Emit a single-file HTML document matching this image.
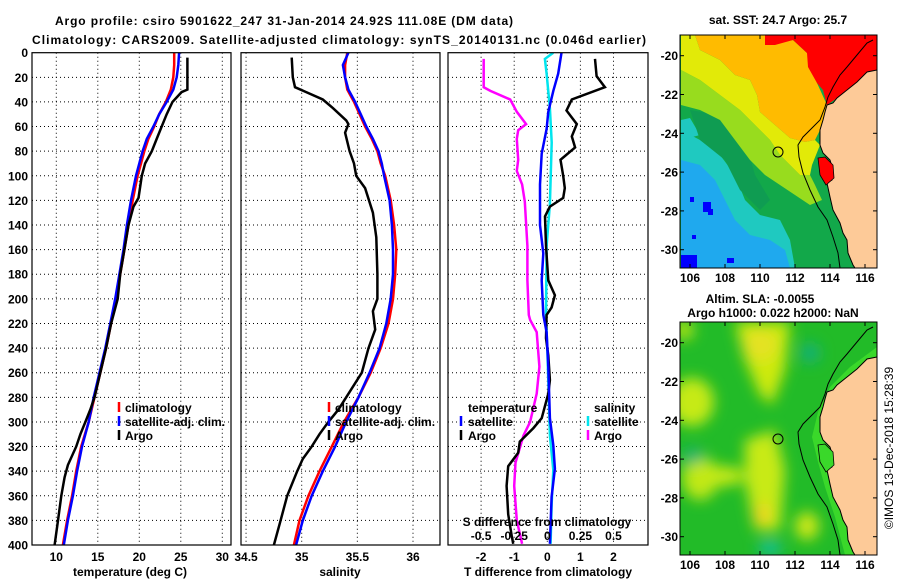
<!DOCTYPE html>
<html><head><meta charset="utf-8"><style>
html,body{margin:0;padding:0;background:#fff;}
svg text{font-family:"Liberation Sans",Arial,sans-serif;font-weight:bold;font-size:12px;fill:#000;}
</style></head><body>
<svg id="chart" width="900" height="580" viewBox="0 0 900 580" xmlns="http://www.w3.org/2000/svg">
<defs>
<clipPath id="c1"><rect x="32" y="52.7" width="199" height="492.3"/></clipPath>
<clipPath id="c2"><rect x="241" y="52.7" width="199" height="492.3"/></clipPath>
<clipPath id="c3"><rect x="448" y="52.7" width="200" height="492.3"/></clipPath>
<clipPath id="m1"><rect x="680" y="35" width="197" height="233"/></clipPath>
<clipPath id="m2"><rect x="680" y="322" width="197" height="233"/></clipPath>
<filter id="blur" x="-50%" y="-50%" width="200%" height="200%"><feGaussianBlur stdDeviation="7"/></filter>
</defs>
<text x="284" y="25" text-anchor="middle" font-size="13" textLength="458">Argo profile: csiro 5901622_247 31-Jan-2014 24.92S 111.08E (DM data)</text>
<text x="32" y="44" font-size="13" textLength="614">Climatology: CARS2009. Satellite-adjusted climatology: synTS_20140131.nc (0.046d earlier)</text>
<g id="grid"></g>
<g id="lines"></g>
<g id="frames"></g>
<g id="labels"></g>

<!-- SST map -->
<g>
<g clip-path="url(#m1)">
<rect x="680" y="35" width="197" height="233" fill="#12a84a"/>
<polygon fill="#1fc9c0" points="681,130 700,140 720,155 735,175 745,200 760,215 780,220 790,240 795,268 681,268"/>
<polygon fill="#1fa9ee" points="681,160 700,165 715,180 725,200 735,220 750,235 770,240 785,250 790,268 681,268"/>
<polygon fill="#1fc9c0" points="681,120 690,118 700,135 681,140"/>
<polygon fill="#0f9c52" points="690,110 720,115 745,140 755,175 770,200 760,210 740,190 725,160 700,140"/>
<polygon fill="#98dc1e" points="681,70 700,80 720,95 740,110 755,125 770,140 780,155 790,165 800,175 810,175 815,185 822,200 810,205 795,195 780,185 765,175 750,160 735,140 720,120 700,110 681,105"/>
<polygon fill="#e2ea08" points="681,35 695,35 700,50 720,60 735,75 750,80 757,95 760,112 775,125 790,138 805,142 815,140 820,145 812,165 810,175 800,175 790,165 780,155 770,140 755,125 740,110 720,95 700,80 681,70"/>
<polygon fill="#ffbb00" points="695,35 765,35 765,45 793,40 807,53 817,83 827,105 823,120 820,130 815,140 805,142 790,138 775,125 760,112 757,95 750,80 735,75 720,60 700,50"/>
<polygon fill="#ff0000" points="765,35 877,35 877,70 837,98 827,105 823,90 817,83 808,67 807,53 793,40 775,45 765,45"/>
<rect x="681" y="255" width="16" height="13" fill="#0000ff"/>
<rect x="690" y="197" width="4" height="5" fill="#0000ff"/>
<rect x="703" y="202" width="8" height="10" fill="#0000ff"/>
<rect x="708" y="209" width="5" height="6" fill="#0000ff"/>
<rect x="692" y="235" width="4" height="4" fill="#0000ff"/>
<rect x="727" y="258" width="7" height="5" fill="#0000ff"/>
<g id="land1">
<polygon fill="#fdca98" points="877,70 867,72 857,82 847,90 837,98 833,103 827,105 825,112 823,120 820,130 820,145 823,153 830,160 833,170 832,180 827,183 830,197 833,210 840,223 843,233 847,240 848,253 853,265 855,268 877,268"/>
<polyline fill="none" stroke="#000" stroke-width="1" points="877,70 867,72 857,82 847,90 837,98 833,103 827,105 825,112 823,120 820,130 820,145 823,153 830,160 833,170 832,180 827,183 830,197 833,210 840,223 843,233 847,240 848,253 853,265 855,268"/>
<polyline fill="none" stroke="#000" stroke-width="1" points="873,40 867,43 857,55 847,67 840,75 833,87 828,97 825,107 820,120 813,127 803,137 798,145 799,157 803,173 810,190 818,207 827,220 833,237 838,253 840,268"/>
</g>
<polygon fill="#ff0000" stroke="#000" stroke-width="0.8" points="818,158 825,157 833,165 834,178 826,185 820,175"/>
<circle cx="778" cy="152" r="5" fill="none" stroke="#000" stroke-width="1"/>
</g>
<rect x="680" y="35" width="197" height="233" fill="none" stroke="#000" stroke-width="1"/>
</g>

<!-- SLA map -->
<g>
<g clip-path="url(#m2)">
<rect x="680" y="322" width="197" height="233" fill="#22bb28"/>
<g filter="url(#blur)">
<polygon fill="#cdea10" points="735,322 790,322 785,370 772,405 760,395 745,360"/>
<ellipse cx="760" cy="345" rx="18" ry="16" fill="#e4e222"/>
<ellipse cx="692" cy="402" rx="22" ry="24" fill="#c6ea12"/>
<ellipse cx="700" cy="478" rx="18" ry="22" fill="#bfe814"/>
<ellipse cx="722" cy="476" rx="22" ry="10" fill="#c6ea12"/>
<polygon fill="#c8ea12" points="745,440 775,430 785,470 780,530 755,530 745,480"/>
<ellipse cx="762" cy="515" rx="8" ry="12" fill="#eed420"/>
<ellipse cx="807" cy="526" rx="12" ry="14" fill="#cde812"/>
<ellipse cx="810" cy="353" rx="10" ry="10" fill="#14b07a"/>
<ellipse cx="693" cy="456" rx="10" ry="8" fill="#14b07a"/>
<ellipse cx="770" cy="548" rx="12" ry="7" fill="#14c0a0"/>
<ellipse cx="684" cy="330" rx="10" ry="10" fill="#b0e218"/>
</g>
<polygon fill="#3ad82a" transform="translate(0,287)" points="877,60 850,80 830,100 818,125 812,150 818,175 825,200 835,230 845,268 877,268"/>
<g transform="translate(0,287)">
<polygon fill="#fdca98" points="877,70 867,72 857,82 847,90 837,98 833,103 827,105 825,112 823,120 820,130 820,145 823,153 830,160 833,170 832,180 827,183 830,197 833,210 840,223 843,233 847,240 848,253 853,265 855,268 877,268"/>
<polyline fill="none" stroke="#000" stroke-width="1" points="877,70 867,72 857,82 847,90 837,98 833,103 827,105 825,112 823,120 820,130 820,145 823,153 830,160 833,170 832,180 827,183 830,197 833,210 840,223 843,233 847,240 848,253 853,265 855,268"/>
<polyline fill="none" stroke="#000" stroke-width="1" points="873,40 867,43 857,55 847,67 840,75 833,87 828,97 825,107 820,120 813,127 803,137 798,145 799,157 803,173 810,190 818,207 827,220 833,237 838,253 840,268"/>
<polygon fill="#3ad82a" stroke="#000" stroke-width="0.8" points="818,158 825,157 833,165 834,178 826,185 820,175"/>
</g>
<circle cx="778" cy="439" r="5" fill="none" stroke="#000" stroke-width="1"/>
</g>
<rect x="680" y="322" width="197" height="233" fill="none" stroke="#000" stroke-width="1"/>
</g>
<text x="778" y="24" text-anchor="middle">sat. SST: 24.7 Argo: 25.7</text>
<text x="760" y="303" text-anchor="middle">Altim. SLA: -0.0055</text>
<text x="773" y="317" text-anchor="middle">Argo h1000: 0.022 h2000: NaN</text>
<g id="maplabels"></g>
<text transform="translate(893,448) rotate(-90)" text-anchor="middle" font-weight="normal" style="font-weight:normal">©IMOS 13-Dec-2018 15:28:39</text>
</svg>
<script>
// ---------- data ----------
const climDepth = [0,10,20,30,40,50,60,70,80,90,100,120,140,160,180,200,220,240,260,280,300,320,340,360,380,400];
const tempClim = [24.2,24.2,24.1,23.8,23.2,22.4,21.8,21.1,20.6,20.2,19.8,19.2,18.7,18.2,17.7,17.2,16.6,16.0,15.3,14.6,13.9,13.0,12.4,11.9,11.3,10.8];
const tempSatClim = [24.8,24.7,24.5,24.1,23.3,22.4,21.7,20.9,20.4,20.0,19.6,19.0,18.5,18.1,17.6,17.1,16.5,15.9,15.2,14.5,13.9,13.1,12.5,12.0,11.4,10.9];
const argoTDepth = [4,30,32,40,50,60,70,80,90,100,118,125,140,160,180,200,220,240,260,280,290,300,310,320,335,345,360,380,400];
const argoTemp = [25.8,25.8,25.1,24.0,23.3,22.7,22.1,21.5,20.7,20.3,19.9,19.3,18.7,18.2,17.7,17.4,16.6,16.0,15.3,14.6,14.1,13.5,12.9,12.4,11.4,11.0,10.6,10.2,9.8];
const salClim = [35.41,35.39,35.39,35.41,35.47,35.52,35.57,35.63,35.68,35.71,35.75,35.80,35.83,35.85,35.84,35.82,35.78,35.71,35.62,35.51,35.38,35.27,35.16,35.06,34.98,34.93];
const salSatClim = [35.42,35.37,35.39,35.42,35.48,35.53,35.58,35.64,35.69,35.72,35.74,35.79,35.81,35.82,35.82,35.80,35.76,35.70,35.61,35.51,35.40,35.30,35.19,35.09,35.01,34.95];
const argoSDepth = [4,20,28,32,38,45,55,58,65,80,90,100,110,130,150,180,200,210,225,240,260,280,290,300,310,320,330,340,360,380,400];
const argoSal = [34.91,34.92,34.94,35.04,35.19,35.28,35.40,35.42,35.39,35.43,35.47,35.49,35.57,35.64,35.67,35.68,35.68,35.64,35.66,35.60,35.54,35.40,35.33,35.24,35.16,35.09,35.01,34.96,34.87,34.81,34.75];
const tSatDiffDepth = [0,17,31,48,62,82,107,140,163,185,213,227,255,297,319,338,361,399];
const tSatDiff = [0.43,0.33,0.18,0.03,-0.02,-0.17,-0.22,-0.22,-0.12,-0.17,-0.12,-0.02,0.03,0.08,0.18,0.23,0.13,0.08];
const tArgoDiffDepth = [5,19,28,38,47,58,68,77,87,100,110,118,125,133,157,185,197,207,213,232,246,266,277,297,305,316,325,336,352,375,392,399];
const tArgoDiff = [1.44,1.49,1.74,0.74,0.58,0.89,0.74,0.84,0.40,0.48,0.53,0.48,0.08,-0.07,-0.04,0.03,0.23,0.13,-0.02,-0.04,0.03,0.08,0.03,-0.17,-0.42,-0.83,-0.88,-1.18,-1.23,-1.18,-1.08,-1.03];
const sSatDiffDepth = [0,5,17,45,73,123,157,213,241,269,311,339,366,399];
const sSatDiff = [0.045,-0.018,-0.005,0.02,0.033,0.02,-0.005,-0.01,0,0.008,0.02,0.045,0.033,0.025];
const sArgoDiffDepth = [5,28,31,38,48,58,63,70,87,96,107,121,157,185,213,217,227,255,277,300,311,322,333,352,380,399];
const sArgoDiff = [-0.48,-0.48,-0.43,-0.28,-0.23,-0.16,-0.22,-0.23,-0.22,-0.23,-0.19,-0.17,-0.15,-0.15,-0.14,-0.13,-0.08,-0.06,-0.08,-0.13,-0.18,-0.21,-0.24,-0.25,-0.23,-0.19];
const depthTicks = [0,20,40,60,80,100,120,140,160,180,200,220,240,260,280,300,320,340,360,380,400];
const tempTicks = [10,15,20,25,30];
const salTicks = [34.5,35,35.5,36];
const tDiffTicks = [-2,-1,0,1,2];
const sDiffTicks = [-0.5,-0.25,0,0.25,0.5];
const sDiffTickLabels = ["-0.5","-0.25","0","0.25","0.5"];
const lonTicks = [106,108,110,112,114,116];
const latTicks = [-20,-22,-24,-26,-28,-30];

// ---------- scales ----------
const NS = "http://www.w3.org/2000/svg";
const yD = d => 52.7 + d * 1.2308;
const xT = t => 139.3 + (t - 20) * 8.3;
const xS = s => 301.7 + (s - 35) * 111.3;
const xTd = t => 547.3 + t * 33.1;
const xSd = s => 547.3 + s * 132.4;
const P = [{x0:32,x1:231},{x0:241,x1:440},{x0:448,x1:648}];
const grid = document.getElementById('grid');
const lines = document.getElementById('lines');
const frames = document.getElementById('frames');
const labels = document.getElementById('labels');
function mk(tag, attrs, parent){const e=document.createElementNS(NS,tag);for(const k in attrs)e.setAttribute(k,attrs[k]);parent.appendChild(e);return e;}
function txt(x,y,s,anchor,parent){const e=mk('text',{x:x,y:y,'text-anchor':anchor},parent);e.textContent=s;return e;}
function dotted(x1,y1,x2,y2){const l=mk('line',{x1:x1,y1:y1,x2:x2,y2:y2,stroke:'#000','stroke-width':1,'stroke-dasharray':'1,3'},grid);

}

// grids
P.forEach(p=>{depthTicks.forEach(d=>{if(d>0&&d<400)dotted(p.x0,yD(d),p.x1,yD(d));});});
tempTicks.forEach(t=>dotted(xT(t),52.7,xT(t),545));
salTicks.forEach(s=>dotted(xS(s),52.7,xS(s),545));
tDiffTicks.forEach(t=>dotted(xTd(t),52.7,xTd(t),545));

function series(xs, ds, fx, color, clip, name){
  const pts = xs.map((v,i)=>fx(v).toFixed(1)+','+yD(ds[i]).toFixed(1)).join(' ');
  const pl = mk('polyline',{points:pts,fill:'none',stroke:color,'stroke-width':2.5,'clip-path':'url(#'+clip+')'},lines);
  
  
}
series(tempClim, climDepth, xT, '#ff0000','c1','temp-climatology-line');
series(tempSatClim, climDepth, xT, '#0000ff','c1','temp-satellite-clim-line');
series(argoTemp, argoTDepth, xT, '#000000','c1','temp-argo-line');
series(salClim, climDepth, xS, '#ff0000','c2','sal-climatology-line');
series(salSatClim, climDepth, xS, '#0000ff','c2','sal-satellite-clim-line');
series(argoSal, argoSDepth, xS, '#000000','c2','sal-argo-line');
series(sArgoDiff, sArgoDiffDepth, xSd, '#ff00ff','c3','sal-argo-diff-line');
series(sSatDiff, sSatDiffDepth, xSd, '#00e5ee','c3','sal-satellite-diff-line');
series(tArgoDiff, tArgoDiffDepth, xTd, '#000000','c3','temp-argo-diff-line');
series(tSatDiff, tSatDiffDepth, xTd, '#0000ff','c3','temp-satellite-diff-line');

// frames
P.forEach((p,i)=>{const r=mk('rect',{x:p.x0,y:52.7,width:p.x1-p.x0,height:492.3,fill:'none',stroke:'#000','stroke-width':1.2},frames);

});

// y tick labels
depthTicks.forEach(d=>{const t=txt(28,yD(d)+4.5,String(d),'end',labels);

});
// x tick labels
tempTicks.forEach(v=>{const t=txt(xT(v),561,String(v),'middle',labels);

});
salTicks.forEach(v=>{const t=txt(xS(v),561,String(v),'middle',labels);

});
tDiffTicks.forEach(v=>{const t=txt(xTd(v),561,String(v),'middle',labels);

});
sDiffTicks.forEach((v,i)=>{const t=txt(xSd(v),540,sDiffTickLabels[i],'middle',labels);

});
[[130,'temperature (deg C)','temp-axis-title'],[340,'salinity','sal-axis-title'],[548,'T difference from climatology','tdiff-axis-title']].forEach(a=>{
const t=txt(a[0],576,a[1],'middle',labels);

});
const sdt=txt(547,526,'S difference from climatology','middle',labels);



// legends
function legend(mx, tx, y, color, label, name){
  const g=mk('g',{},labels);
  
  
  if(color) mk('line',{x1:mx,y1:y-10,x2:mx,y2:y,stroke:color,'stroke-width':2.5},g);
  txt(tx,y,label,'start',g);
}
legend(119,125,412,'#ff0000','climatology','legend-entry-climatology');
legend(119,125,426,'#0000ff','satellite-adj. clim.','legend-entry-satellite-adj');
legend(119,125,440,'#000000','Argo','legend-entry-argo');
legend(329,335,412,'#ff0000','climatology','legend-entry-climatology-sal');
legend(329,335,426,'#0000ff','satellite-adj. clim.','legend-entry-satellite-adj-sal');
legend(329,335,440,'#000000','Argo','legend-entry-argo-sal');
legend(0,468,412,null,'temperature','legend-heading-temperature');
legend(461,468,426,'#0000ff','satellite','legend-entry-temp-satellite');
legend(461,468,440,'#000000','Argo','legend-entry-temp-argo');
legend(0,594,412,null,'salinity','legend-heading-salinity');
legend(588,594,426,'#00e5ee','satellite','legend-entry-sal-satellite');
legend(588,594,440,'#ff00ff','Argo','legend-entry-sal-argo');

// map labels
const ml = document.getElementById('maplabels');
const xLon = lon => 690 + (lon-106)*17.5;
const yLat = (lat, off) => 55.7 + (-20-lat)*19.4 + off;
[0,287].forEach((off,mi)=>{
  lonTicks.forEach(l=>{
    const t=txt(xLon(l), 282+off, String(l),'middle',ml);
    
    
    mk('line',{x1:xLon(l),y1:35+off,x2:xLon(l),y2:39+off,stroke:'#000'},ml);
    mk('line',{x1:xLon(l),y1:268+off,x2:xLon(l),y2:264+off,stroke:'#000'},ml);
  });
  latTicks.forEach(l=>{
    const t=txt(678, yLat(l,off)+4.5, String(l),'end',ml);
    
    
    mk('line',{x1:680,y1:yLat(l,off),x2:684,y2:yLat(l,off),stroke:'#000'},ml);
    mk('line',{x1:877,y1:yLat(l,off),x2:873,y2:yLat(l,off),stroke:'#000'},ml);
  });
});
</script>
</body></html>
